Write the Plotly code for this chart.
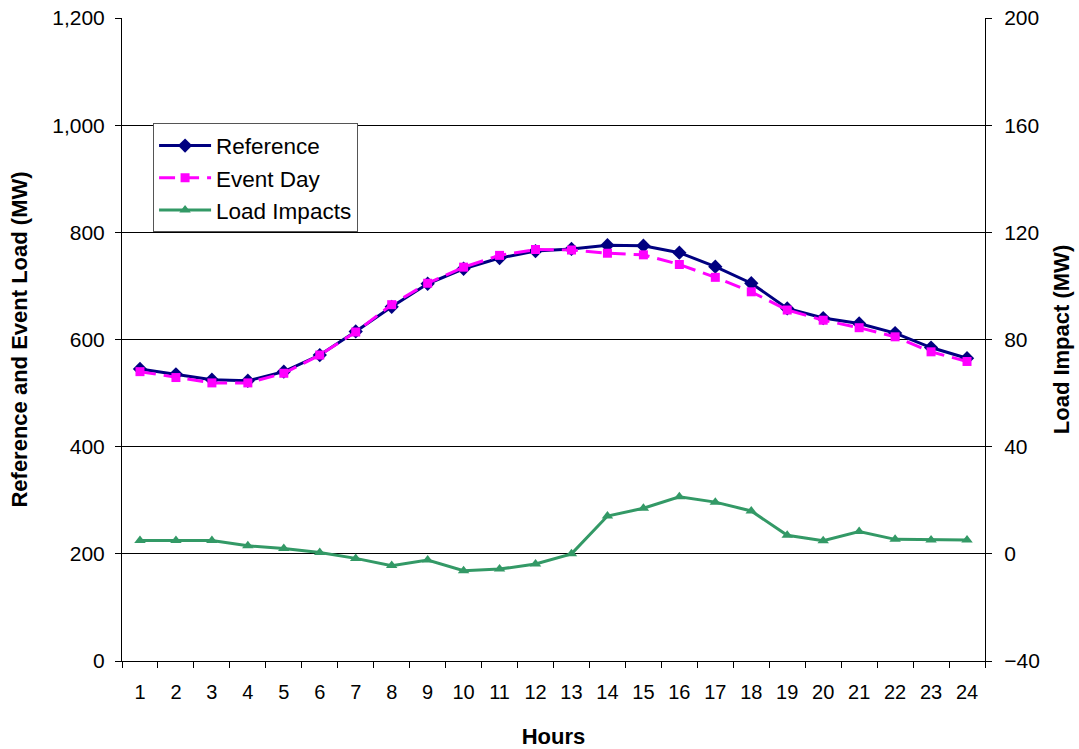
import plotly.graph_objects as go

hours = [str(h) for h in range(1, 25)]

reference = [545, 535, 525, 523, 540, 571, 615, 661, 704, 732, 752, 765,
             769, 776, 775, 762, 736, 705, 658, 640, 630, 612, 585, 565]
event_day = [540, 529, 519, 519, 537, 571, 614, 665, 705, 735, 757, 768,
             767, 761, 758, 740, 716, 689, 655, 636, 622, 605, 577, 559]
load_impacts = [5.0, 5.0, 5.0, 3.0, 2.0, 0.5, -1.7, -4.4, -2.3, -6.3, -5.7, -3.8,
                0.0, 14.1, 17.0, 21.3, 19.3, 16.0, 6.9, 4.9, 8.3, 5.4, 5.2, 5.2]

left_ticks = [0, 200, 400, 600, 800, 1000, 1200]
right_ticks = [-40, 0, 40, 80, 120, 160, 200]

FONT = "Liberation Sans, Arial, sans-serif"

fig = go.Figure()
fig.add_trace(go.Scatter(
    x=hours, y=reference, name="Reference", mode="lines+markers",
    line=dict(color="#000080", width=3),
    marker=dict(symbol="diamond", size=11, color="#000080"),
))
fig.add_trace(go.Scatter(
    x=hours, y=event_day, name="Event Day", mode="lines+markers",
    line=dict(color="#FF00FF", width=3, dash="16px,8px"),
    marker=dict(symbol="square", size=9, color="#FF00FF"),
))
fig.add_trace(go.Scatter(
    x=hours, y=load_impacts, name="Load Impacts", mode="lines+markers",
    yaxis="y2",
    line=dict(color="#339966", width=3),
    marker=dict(symbol="triangle-up", size=10, color="#339966"),
))

fig.update_layout(
    width=1079, height=749,
    margin=dict(l=122, r=94, t=18, b=88, autoexpand=False),
    paper_bgcolor="white", plot_bgcolor="white",
    font=dict(family=FONT, size=21, color="black"),
    showlegend=True,
    legend=dict(
        x=0.036, y=0.836, xanchor="left", yanchor="top",
        bgcolor="white", bordercolor="#555555", borderwidth=1,
        font=dict(size=22.5), tracegroupgap=0, itemwidth=52,
    ),
    xaxis=dict(
        type="category", tickson="boundaries", range=[-0.5, 23.5],
        ticks="outside", ticklen=6, tickcolor="black",
        showline=True, linecolor="black", linewidth=1, mirror=False,
        showgrid=False, automargin=False,
        ticklabelstandoff=13,
        title=dict(text="<b>Hours</b>", font=dict(size=22), standoff=28),
        tickfont=dict(size=20),
    ),
    yaxis=dict(
        range=[0, 1200], tickvals=left_ticks,
        ticktext=[f"{v:,}" for v in left_ticks],
        ticks="outside", ticklen=6, tickcolor="black",
        showline=True, linecolor="black", linewidth=1,
        showgrid=True, gridcolor="black", gridwidth=1,
        zeroline=False, ticklabelstandoff=6, automargin=False,
        title=dict(text="<b>Reference and Event Load (MW)</b>", font=dict(size=22), standoff=18),
    ),
    yaxis2=dict(
        range=[-40, 200], tickvals=right_ticks,
        overlaying="y", side="right",
        ticks="outside", ticklen=6, tickcolor="black",
        showline=True, linecolor="black", linewidth=1,
        showgrid=False, zeroline=False, ticklabelstandoff=8, automargin=False,
        title=dict(text="<b>Load Impact (MW)</b>", font=dict(size=22), standoff=14),
    ),
)

fig.write_html("out.html")
